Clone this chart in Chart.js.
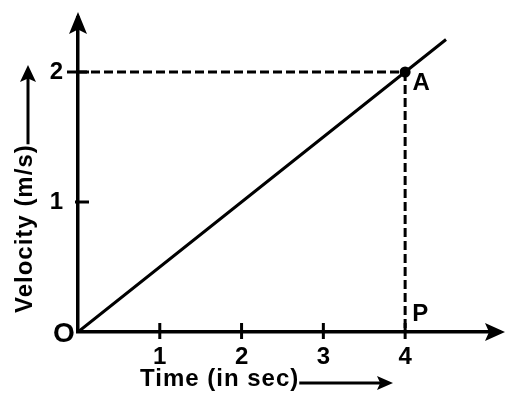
<!DOCTYPE html>
<html>
<head>
<meta charset="utf-8">
<script src="https://cdn.jsdelivr.net/npm/chart.js@4.4.1/dist/chart.umd.min.js"></script>
<style>
html,body{margin:0;padding:0;background:#fff;}
canvas{display:block;}
</style>
</head>
<body>
<canvas id="c" width="507" height="395"></canvas>
<script>
// ---- data ----
const times = [0, 4, 4.5];          // seconds
const velocity = [0, 2, 2.25];      // m/s
const pointA = {x: 4, y: 2};
const xTicks = [1, 2, 3, 4];
const yTicks = [1, 2];
const xTitle = 'Time (in sec)';
const yTitle = 'Velocity (m/s)';
const originLabel = 'O';
const labelA = 'A';
const labelP = 'P';

const FONT = '"Liberation Sans", Arial, sans-serif';

const linePts = times.map((t, i) => ({x: t, y: velocity[i]}));
const hDash = [{x: 0, y: pointA.y}, {x: pointA.x, y: pointA.y}];
const vDash = [{x: pointA.x, y: pointA.y}, {x: pointA.x, y: 0}];

function arrow(ctx, tipX, tipY, dir, len, half) {
  ctx.beginPath();
  if (dir === 'up') {
    ctx.moveTo(tipX, tipY);
    ctx.lineTo(tipX - half, tipY + len);
    ctx.lineTo(tipX, tipY + len * 0.8);
    ctx.lineTo(tipX + half, tipY + len);
  } else {
    ctx.moveTo(tipX, tipY);
    ctx.lineTo(tipX - len, tipY - half);
    ctx.lineTo(tipX - len * 0.8, tipY);
    ctx.lineTo(tipX - len, tipY + half);
  }
  ctx.closePath();
  ctx.fill();
}

const decor = {
  id: 'decor',
  afterDraw(chart) {
    const ctx = chart.ctx;
    const xs = chart.scales.x, ys = chart.scales.y;
    const x0 = xs.getPixelForValue(0), y0 = ys.getPixelForValue(0);
    ctx.save();
    ctx.fillStyle = '#000';
    ctx.strokeStyle = '#000';
    ctx.lineCap = 'butt';

    // axis arrowheads
    arrow(ctx, x0, 12, 'up', 22, 9);
    arrow(ctx, 505, y0, 'right', 20, 9);

    // tick marks
    ctx.lineWidth = 3;
    xTicks.forEach(v => {
      const px = xs.getPixelForValue(v);
      ctx.beginPath(); ctx.moveTo(px, y0 - 9); ctx.lineTo(px, y0 + 7); ctx.stroke();
    });
    yTicks.forEach((v, i) => {
      const py = ys.getPixelForValue(v);
      const left = (i === yTicks.length - 1) ? 11 : 3;
      ctx.beginPath(); ctx.moveTo(x0 - left, py); ctx.lineTo(x0 + 11, py); ctx.stroke();
    });

    // origin label
    ctx.font = 'bold 28px ' + FONT;
    ctx.textAlign = 'center';
    ctx.textBaseline = 'middle';
    ctx.fillText(originLabel, x0 - 14, y0 + 2);

    // A and P
    const ax = xs.getPixelForValue(pointA.x), ay = ys.getPixelForValue(pointA.y);
    ctx.font = 'bold 24px ' + FONT;
    ctx.fillText(labelA, ax + 16, ay + 11);
    ctx.fillText(labelP, ax + 15, y0 - 18);

    // x title + arrow
    ctx.font = 'bold 24px ' + FONT;
    ctx.letterSpacing = '1px';
    ctx.textAlign = 'left';
    ctx.fillText(xTitle, 140, 379);
    const wx = ctx.measureText(xTitle).width;
    const xs0 = 140 + wx;
    ctx.lineWidth = 3;
    ctx.beginPath(); ctx.moveTo(xs0, 383); ctx.lineTo(385, 383); ctx.stroke();
    arrow(ctx, 393, 383, 'right', 16, 7);

    // y title + arrow
    ctx.save();
    ctx.translate(32, 313);
    ctx.rotate(-Math.PI / 2);
    ctx.textBaseline = 'alphabetic';
    ctx.fillText(yTitle, 0, 0);
    const wy = ctx.measureText(yTitle).width;
    ctx.restore();
    const yEnd = 313 - wy;
    ctx.beginPath(); ctx.moveTo(28, yEnd); ctx.lineTo(28, 74); ctx.stroke();
    arrow(ctx, 28, 65, 'up', 17, 8);

    ctx.restore();
  }
};

function noPad(s) {
  s.paddingTop = 0; s.paddingBottom = 0; s.paddingLeft = 0; s.paddingRight = 0;
}

new Chart(document.getElementById('c'), {
  type: 'line',
  data: {
    datasets: [
      {
        data: linePts,
        borderColor: '#000',
        borderWidth: 3,
        pointRadius: times.map(t => t === pointA.x ? 5.5 : 0),
        pointBackgroundColor: '#000',
        pointBorderColor: '#000',
        pointBorderWidth: 0,
        order: 0
      },
      {
        data: hDash,
        borderColor: '#000',
        borderWidth: 3,
        borderDash: [9, 4],
        pointRadius: 0,
        order: 1
      },
      {
        data: vDash,
        borderColor: '#000',
        borderWidth: 3,
        borderDash: [9, 4],
        pointRadius: 0,
        order: 1
      }
    ]
  },
  options: {
    responsive: false,
    animation: false,
    events: [],
    layout: {autoPadding: false, padding: {left: 0, top: 18, right: 7, bottom: 0}},
    plugins: {legend: {display: false}, tooltip: {enabled: false}},
    scales: {
      x: {
        type: 'linear',
        min: 0,
        max: 5.16,
        afterFit: s => { s.height = 63; noPad(s); },
        afterBuildTicks: s => { s.ticks = xTicks.map(v => ({value: v})); },
        grid: {display: true, drawOnChartArea: false, drawTicks: false},
        border: {display: true, color: '#000', width: 3.5},
        ticks: {
          color: '#000',
          padding: 11,
          maxRotation: 0,
          autoSkip: false,
          font: {family: FONT, size: 24, weight: 'bold'}
        }
      },
      y: {
        type: 'linear',
        min: 0,
        max: 2.4154,
        afterFit: s => { s.width = 78; noPad(s); },
        afterBuildTicks: s => { s.ticks = yTicks.map(v => ({value: v})); },
        grid: {display: true, drawOnChartArea: false, drawTicks: false},
        border: {display: true, color: '#000', width: 3.5},
        ticks: {
          color: '#000',
          padding: 15,
          autoSkip: false,
          font: {family: FONT, size: 24, weight: 'bold'}
        }
      }
    }
  },
  plugins: [decor]
});
</script>
</body>
</html>
